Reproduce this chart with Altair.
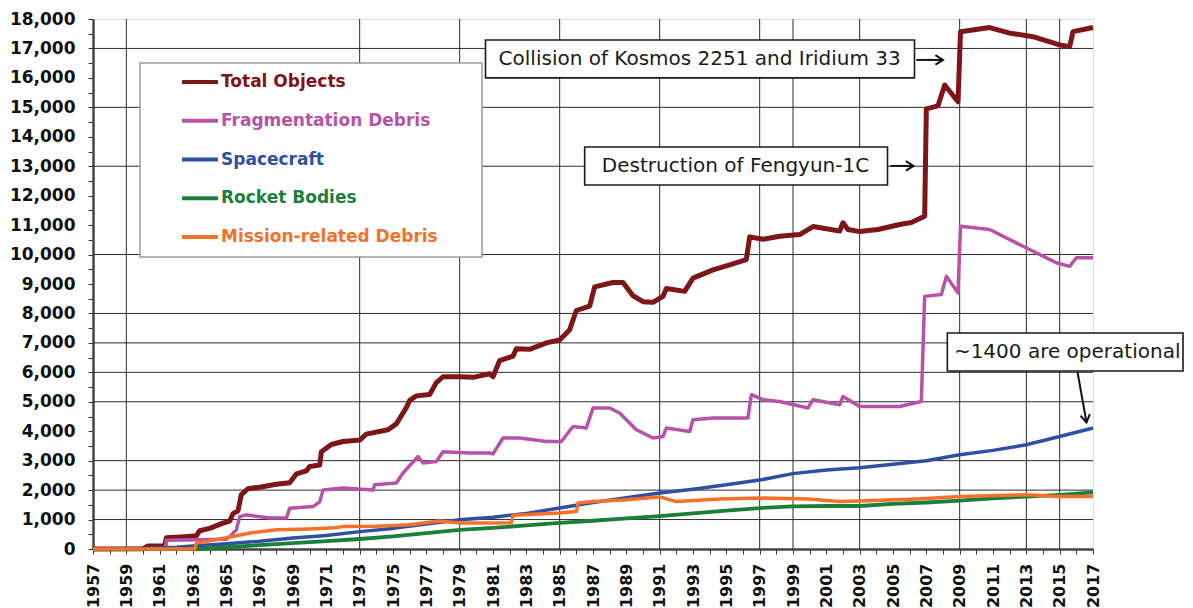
import altair as alt
import pandas as pd

# ---------------- data ----------------
total_years = [1957.0, 1960.0, 1960.3, 1961.3, 1961.4, 1962.5, 1963.2, 1963.4, 1964.0, 1964.8, 1965.2, 1965.4,
               1965.7, 1965.9, 1966.3, 1967.0, 1968.0, 1968.8, 1969.2, 1969.8, 1970.0, 1970.6, 1970.7, 1971.3,
               1972.0, 1973.0, 1973.4, 1974.7, 1975.2, 1975.8, 1976.0, 1976.4, 1977.2, 1977.6, 1978.0, 1979.0,
               1979.8, 1980.8, 1981.0, 1981.4, 1982.2, 1982.4, 1983.2, 1984.2, 1985.0, 1985.6, 1986.0, 1986.8,
               1987.1, 1988.2, 1988.8, 1989.4, 1990.0, 1990.6, 1991.2, 1991.4, 1992.5, 1993.0, 1994.2, 1995.2,
               1996.2, 1996.4, 1997.2, 1998.2, 1999.4, 2000.2, 2001.8, 2002.0, 2002.3, 2003.0, 2004.1, 2005.4,
               2006.1, 2006.9, 2007.0, 2007.7, 2008.1, 2008.9, 2009.05, 2010.8, 2012.0, 2013.4, 2015.0, 2015.6,
               2015.8, 2017.0]
total_vals = [0, 10, 100, 110, 380, 420, 450, 620, 700, 880, 950, 1200,
              1300, 1850, 2050, 2100, 2200, 2250, 2550, 2650, 2800, 2850, 3300, 3550,
              3650, 3700, 3900, 4050, 4250, 4800, 5050, 5200, 5250, 5650, 5850, 5850,
              5830, 5950, 5850, 6400, 6550, 6800, 6780, 7000, 7100, 7450, 8100, 8250,
              8900, 9050, 9050, 8600, 8400, 8380, 8580, 8850, 8750, 9200, 9480, 9650,
              9830, 10600, 10520, 10620, 10680, 10950, 10800, 11080, 10850, 10780, 10850, 11020,
              11090, 11300, 14950, 15050, 15760, 15190, 17570, 17710, 17520, 17400, 17120, 17060,
              17570, 17710]

frag_years = [1957.0, 1961.35, 1961.4, 1965.0, 1965.2, 1965.6, 1965.8, 1966.2, 1967.6, 1968.6, 1968.8, 1970.2,
              1970.6, 1970.8, 1972.0, 1973.8, 1973.9, 1975.2, 1975.6, 1976.5, 1976.8, 1977.6, 1978.0, 1979.6,
              1980.8, 1981.0, 1981.6, 1982.6, 1984.2, 1985.1, 1985.8, 1986.6, 1987.0, 1988.0, 1988.6, 1989.6,
              1990.6, 1991.2, 1991.4, 1992.8, 1993.0, 1994.2, 1996.3, 1996.5, 1997.2, 1998.2, 1999.9, 2000.2,
              2001.8, 2002.0, 2003.0, 2005.4, 2006.7, 2006.9, 2007.9, 2008.2, 2008.9, 2009.05, 2010.8, 2012.8,
              2014.8, 2015.6, 2016.0, 2017.0]
frag_vals = [0, 0, 300, 330, 420, 650, 1100, 1160, 1050, 1050, 1380, 1440,
             1600, 2000, 2070, 2000, 2180, 2240, 2580, 3140, 2920, 2970, 3300, 3260,
             3260, 3230, 3770, 3770, 3650, 3650, 4160, 4110, 4790, 4790, 4620, 4050,
             3770, 3820, 4110, 3990, 4390, 4450, 4450, 5240, 5070, 5010, 4790, 5070,
             4900, 5180, 4840, 4840, 5010, 8580, 8640, 9260, 8700, 10960, 10850, 10280,
             9720, 9600, 9890, 9890]

sc_years = [1957, 1958, 1960, 1962, 1963, 1965, 1967, 1969, 1971, 1973, 1975, 1977, 1979, 1981, 1983, 1985,
            1987, 1989, 1991, 1993, 1995, 1997, 1999, 2001, 2003, 2005, 2007, 2009, 2011, 2013, 2015, 2017]
sc_vals = [0, 5, 20, 60, 100, 180, 260, 370, 460, 590, 700, 850, 990, 1080, 1210, 1390,
           1580, 1740, 1900, 2030, 2180, 2340, 2560, 2680, 2760, 2880, 3000, 3200, 3350, 3540, 3820, 4110]

rb_years = [1957, 1963.3, 1965, 1967, 1969, 1971, 1973, 1975, 1977, 1979, 1981, 1983, 1985, 1987, 1989, 1991,
            1993, 1995, 1997, 1999, 2001, 2003, 2005, 2007, 2009, 2011, 2013, 2015, 2017]
rb_vals = [0, 0, 60, 130, 200, 270, 340, 430, 540, 650, 720, 800, 890, 960, 1040, 1120,
           1210, 1300, 1390, 1450, 1460, 1460, 1530, 1580, 1640, 1720, 1780, 1840, 1920]

md_years = [1957, 1963.1, 1963.2, 1964.0, 1965.0, 1966.4, 1968.0, 1970.0, 1971.5, 1972.0, 1974.0, 1976.0,
            1977.8, 1979.0, 1980.8, 1982.1, 1982.2, 1985.0, 1986.0, 1986.1, 1987.0, 1989.0, 1991.0, 1992.0,
            1994.6, 1997.0, 1999.9, 2001.8, 2003.0, 2006.4, 2009.0, 2013.0, 2015.0, 2017.0]
md_vals = [0, 0, 200, 280, 380, 540, 650, 680, 720, 760, 770, 820,
           950, 880, 880, 890, 1150, 1220, 1270, 1560, 1610, 1670, 1770, 1610,
           1700, 1730, 1700, 1610, 1630, 1700, 1780, 1840, 1780, 1780]

series_names = ["Total Objects", "Fragmentation Debris", "Spacecraft", "Rocket Bodies", "Mission-related Debris"]
series_years = [total_years, frag_years, sc_years, rb_years, md_years]
series_vals = [total_vals, frag_vals, sc_vals, rb_vals, md_vals]
series_colors = ["#7E1518", "#B852A8", "#2F4FA3", "#1B7F3C", "#F37129"]
series_widths = [5, 3.5, 3.5, 3.8, 3.5]

tick_years = list(range(1957, 2018))
y_ticks = list(range(0, 18001, 500))
grid_years = [1959, 1973, 1979, 1985, 1991, 1997, 1999, 2003, 2009, 2013, 2015]
grid_values = [1000, 2000, 3000, 5000, 6000, 7000, 8000, 10000, 13000, 15000, 17000]

# annotations (data coordinates)
ann_labels = ["Collision of Kosmos 2251 and Iridium 33", "Destruction of Fengyun-1C", "~1400 are operational"]
ann_x = [1993.4, 1995.55, 2015.45]
ann_y = [16644, 13010, 6692]
box_x1 = [1980.55, 1986.5, 2008.26]
box_x2 = [2006.29, 2004.67, 2022.4]
box_y1 = [17289, 13655, 7337]
box_y2 = [15999, 12364, 6046]
arr_x1 = [2006.4, 2004.85, 2016.07]
arr_x2 = [2008.0, 2006.23, 2016.61]
arr_y1 = [16610, 13010, 6012]
arr_y2 = [16610, 13010, 4300]
arr_angle = [0, 0, 80]

# ---------------- chart ----------------
FONT = "DejaVu Sans"
xscale = alt.Scale(domain=[1957, 2017], nice=False, zero=False)
yscale = alt.Scale(domain=[0, 18000], nice=False, zero=True)

xaxis = alt.Axis(values=tick_years, labelExpr="datum.value % 2 == 1 ? '' + datum.value : ''",
                 labelAngle=270, labelFont=FONT, labelFontWeight="bold", labelFontSize=16,
                 labelColor="#111", labelPadding=9, labelOverlap=False, labelFlush=False,
                 tickSize=5, tickColor="#333", tickWidth=1, domainColor="#444", domainWidth=2.5,
                 grid=False, title=None)
yaxis = alt.Axis(values=y_ticks, labelExpr="datum.value % 1000 == 0 ? format(datum.value, ',') : ''",
                 labelFont=FONT, labelFontWeight="bold", labelFontSize=17, labelColor="#111",
                 labelPadding=13, labelOverlap=False, labelFlush=False,
                 tickSize=5, tickColor="#333", tickWidth=1, domainColor="#444", domainWidth=2.5,
                 grid=False, title=None)

X = alt.X("year:Q", scale=xscale, axis=xaxis)
Y = alt.Y("value:Q", scale=yscale, axis=yaxis)

layers = []

vgrid = alt.Chart(pd.DataFrame({"year": grid_years})).mark_rule(color="#2a2a2a", strokeWidth=1).encode(x=X)
hgrid = alt.Chart(pd.DataFrame({"value": grid_values})).mark_rule(color="#2a2a2a", strokeWidth=1).encode(y=Y)
layers += [vgrid, hgrid]

# legend box (covers grid)
one = pd.DataFrame({"k": [0]})
layers.append(alt.Chart(one).mark_rect(fill="white", stroke="#9a9a9a", strokeWidth=1.5).encode(
    x=alt.value(47), x2=alt.value(389), y=alt.value(44), y2=alt.value(238)))

# annotation boxes
ann_df = pd.DataFrame({"label": ann_labels, "year": ann_x, "value": ann_y,
                       "bx1": box_x1, "bx2": box_x2, "by1": box_y1, "by2": box_y2})
layers.append(alt.Chart(ann_df).mark_rect(fill="white", stroke="#1a1a1a", strokeWidth=1.6).encode(
    x=alt.X("bx1:Q", scale=xscale, axis=xaxis), x2="bx2:Q",
    y=alt.Y("by1:Q", scale=yscale, axis=yaxis), y2="by2:Q"))

# series lines
for name, yrs, vals, col, w in zip(series_names, series_years, series_vals, series_colors, series_widths):
    d = pd.DataFrame({"year": yrs, "value": vals, "series": name})
    layers.append(alt.Chart(d).mark_line(color=col, strokeWidth=w, strokeJoin="round").encode(x=X, y=Y))

# annotation texts
layers.append(alt.Chart(ann_df).mark_text(font=FONT, fontSize=20, color="#1a1a1a",
                                          align="center", baseline="middle").encode(x=X, y=Y, text="label:N"))

# arrows
arr_df = pd.DataFrame({"year": arr_x1, "year2": arr_x2, "value": arr_y1, "value2": arr_y2, "angle": arr_angle})
layers.append(alt.Chart(arr_df).mark_rule(color="#111", strokeWidth=2).encode(
    x=X, x2="year2:Q", y=Y, y2="value2:Q"))
layers.append(alt.Chart(arr_df).mark_point(shape="M-1.6,-1L0,0L-1.6,1", filled=False, color="#111",
                                           strokeWidth=2, size=90, opacity=1).encode(
    x=alt.X("year2:Q", scale=xscale, axis=xaxis), y=alt.Y("value2:Q", scale=yscale, axis=yaxis),
    angle=alt.Angle("angle:Q", scale=None)))

# legend entries
for i, (name, col, w) in enumerate(zip(series_names, series_colors, series_widths)):
    py = 63 + i * 38.75
    layers.append(alt.Chart(one).mark_rule(color=col, strokeWidth=4).encode(
        x=alt.value(89), x2=alt.value(125), y=alt.value(py), y2=alt.value(py)))
    layers.append(alt.Chart(one).mark_text(font=FONT, fontWeight="bold", fontSize=17, color=col,
                                           align="left", baseline="middle").encode(
        x=alt.value(128), y=alt.value(py), text=alt.value(name)))

chart = alt.layer(*layers).properties(
    width=1000, height=530,
    autosize=alt.AutoSizeParams(type="none"),
    padding={"left": 85, "top": 11, "right": 92, "bottom": 58},
).configure_view(stroke="#9a9a9a", strokeWidth=2).configure(background="white")

chart.save("out.html", embed_options={"renderer": "svg", "actions": False})
